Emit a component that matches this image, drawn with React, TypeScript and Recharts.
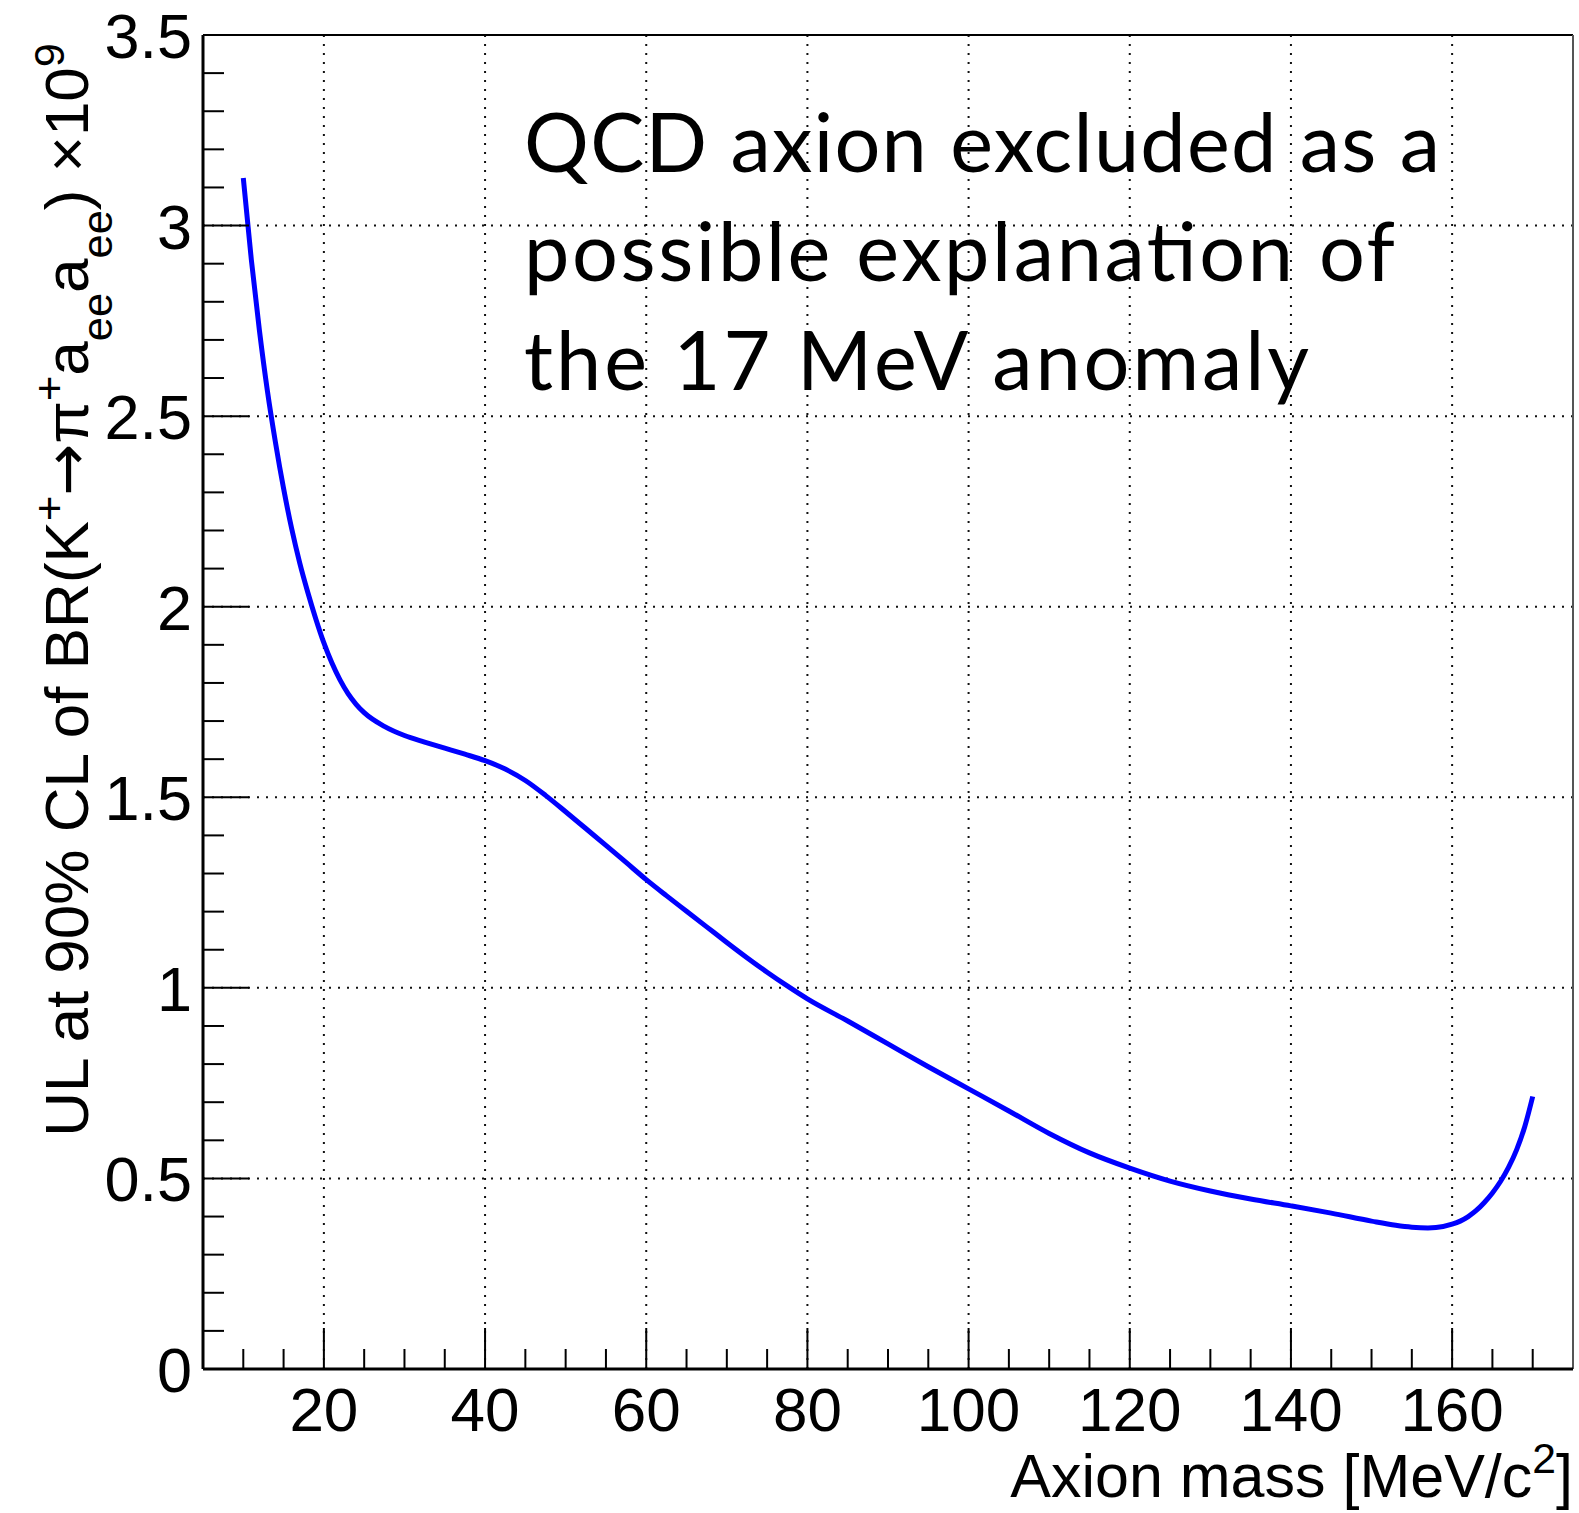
import React from 'react';
import { LineChart, Line, XAxis, YAxis, ReferenceLine } from 'recharts';

// axion mass [MeV/c^2] and UL at 90% CL (x 1e-9)
const MASS = [
  10, 11, 12, 13, 14, 15, 16, 17, 18, 19, 20, 21, 22, 23, 24, 25, 27.5, 30, 32.5, 35, 37.5, 40,
  42.5, 45, 47.5, 50, 52.5, 55, 57.5, 60, 62.5, 65, 67.5, 70, 72.5, 75, 77.5, 80, 85, 90, 95,
  100, 105, 110, 115, 120, 125, 130, 135, 140, 145, 150, 153, 155, 157, 158, 160, 161, 162, 163,
  164, 165, 166, 167, 168, 169, 170,
];
const UL = [
  3.125, 2.91, 2.725, 2.565, 2.43, 2.31, 2.205, 2.115, 2.038, 1.968, 1.905, 1.852, 1.808, 1.772,
  1.744, 1.722, 1.686, 1.662, 1.645, 1.629, 1.613, 1.596, 1.574, 1.544, 1.505, 1.462, 1.418,
  1.374, 1.329, 1.284, 1.242, 1.201, 1.16, 1.119, 1.079, 1.041, 1.005, 0.971, 0.913, 0.853,
  0.793, 0.735, 0.677, 0.618, 0.567, 0.527, 0.493, 0.467, 0.446, 0.428, 0.409, 0.388, 0.377,
  0.372, 0.37, 0.371, 0.38, 0.388, 0.4, 0.416, 0.437, 0.462, 0.492, 0.529, 0.575, 0.635, 0.715,
];

const X_MAJOR = [20, 40, 60, 80, 100, 120, 140, 160];
const X_TICKS = [
  10, 15, 20, 25, 30, 35, 40, 45, 50, 55, 60, 65, 70, 75, 80, 85, 90, 95, 100, 105, 110, 115,
  120, 125, 130, 135, 140, 145, 150, 155, 160, 165, 170,
];
const Y_MAJOR = [0, 0.5, 1, 1.5, 2, 2.5, 3, 3.5];
const Y_TICKS = [
  0, 0.1, 0.2, 0.3, 0.4, 0.5, 0.6, 0.7, 0.8, 0.9, 1, 1.1, 1.2, 1.3, 1.4, 1.5, 1.6, 1.7, 1.8,
  1.9, 2, 2.1, 2.2, 2.3, 2.4, 2.5, 2.6, 2.7, 2.8, 2.9, 3, 3.1, 3.2, 3.3, 3.4, 3.5,
];
const Y_GRID = [0.5, 1, 1.5, 2, 2.5, 3];

const NOTE_LINES = ['QCD axion excluded as a', 'possible explanation of', 'the 17 MeV anomaly'];
const NOTE_WIDTHS = [916, 871, 785];

const data = MASS.map((m, i) => ({ m, ul: UL[i] }));

const AXIS_FONT = '"Liberation Sans", Arial, Helvetica, sans-serif';
const W = 1579;
const H = 1513;

const XTick = ({ x, y, payload }: any) => {
  const major = X_MAJOR.includes(payload.value);
  return (
    <g>
      <line x1={x} y1={y} x2={x} y2={y - (major ? 41 : 20)} stroke="#000" strokeWidth={2} />
      {major && (
        <text x={x} y={y + 62} textAnchor="middle" fontSize={62} fontFamily={AXIS_FONT} fill="#000">
          {payload.value}
        </text>
      )}
    </g>
  );
};

const YTick = ({ x, y, payload }: any) => {
  const major = Y_MAJOR.includes(payload.value);
  return (
    <g>
      <line x1={x} y1={y} x2={x + (major ? 46 : 21)} y2={y} stroke="#000" strokeWidth={2} />
      {major && (
        <text x={x - 11} y={y + 23} textAnchor="end" fontSize={63} fontFamily={AXIS_FONT} fill="#000">
          {payload.value}
        </text>
      )}
    </g>
  );
};

const YTitle = () => (
  <text transform="translate(88,43) rotate(-90)" textAnchor="end" fontSize={62} fontFamily={AXIS_FONT} fill="#000">
    <tspan>{'UL at 90% CL of BR(K'}</tspan>
    <tspan baselineShift="super" fontSize="70%">+</tspan>
    <tspan fontFamily="'DejaVu Sans'">{'\u2192'}</tspan>
    <tspan>{'\u03c0'}</tspan>
    <tspan baselineShift="super" fontSize="70%">+</tspan>
    <tspan>a</tspan>
    <tspan baselineShift="sub" fontSize="70%">ee</tspan>
    <tspan>a</tspan>
    <tspan baselineShift="sub" fontSize="70%">ee</tspan>
    <tspan>{') \u00d710'}</tspan>
    <tspan baselineShift="super" fontSize="70%">9</tspan>
  </text>
);

const XTitle = () => (
  <text x={1573} y={1497} textAnchor="end" fontSize={61} fontFamily={AXIS_FONT} fill="#000">
    <tspan>Axion mass [MeV/c</tspan>
    <tspan baselineShift="super" fontSize="70%">2</tspan>
    <tspan>]</tspan>
  </text>
);

export default function App() {
  return (
    <div style={{ position: 'relative', width: W, height: H, background: '#fff' }}>
      <style>{'body{margin:0;}'}</style>
      <LineChart width={W} height={H} data={data} margin={{ top: 35, right: 6, bottom: 0, left: 0 }}>
        <XAxis
          dataKey="m"
          type="number"
          domain={[5, 175]}
          ticks={X_TICKS}
          interval={0}
          height={144}
          tickSize={0}
          tickMargin={0}
          tickLine={false}
          tick={<XTick />}
          axisLine={{ stroke: '#000', strokeWidth: 3 }}
          label={<XTitle />}
        />
        <YAxis
          type="number"
          domain={[0, 3.5]}
          ticks={Y_TICKS}
          interval={0}
          width={203}
          tickSize={0}
          tickMargin={0}
          tickLine={false}
          tick={<YTick />}
          axisLine={{ stroke: '#000', strokeWidth: 3 }}
          label={<YTitle />}
        />
        {X_MAJOR.map((v) => (
          <ReferenceLine key={`gx-${v}`} x={v} stroke="#111" strokeWidth={2} strokeDasharray="2 7" />
        ))}
        {Y_GRID.map((v) => (
          <ReferenceLine key={`gy-${v}`} y={v} stroke="#111" strokeWidth={2} strokeDasharray="2 7" />
        ))}
        <ReferenceLine y={3.5} stroke="#000" strokeWidth={2} />
        <ReferenceLine x={175} stroke="#555" strokeWidth={2} />
        <Line
          type="monotone"
          dataKey="ul"
          stroke="#0000ff"
          strokeWidth={5}
          dot={false}
          isAnimationActive={false}
        />
      </LineChart>
      <svg width={W} height={H} style={{ position: 'absolute', left: 0, top: 0, pointerEvents: 'none' }}>
        {NOTE_LINES.map((line, i) => (
          <text
            key={line}
            x={524}
            y={172 + i * 109}
            fontSize={81}
            textLength={NOTE_WIDTHS[i]}
            fontFamily="Lato, 'Open Sans', sans-serif"
            fill="#000"
          >
            {line}
          </text>
        ))}
      </svg>
    </div>
  );
}
